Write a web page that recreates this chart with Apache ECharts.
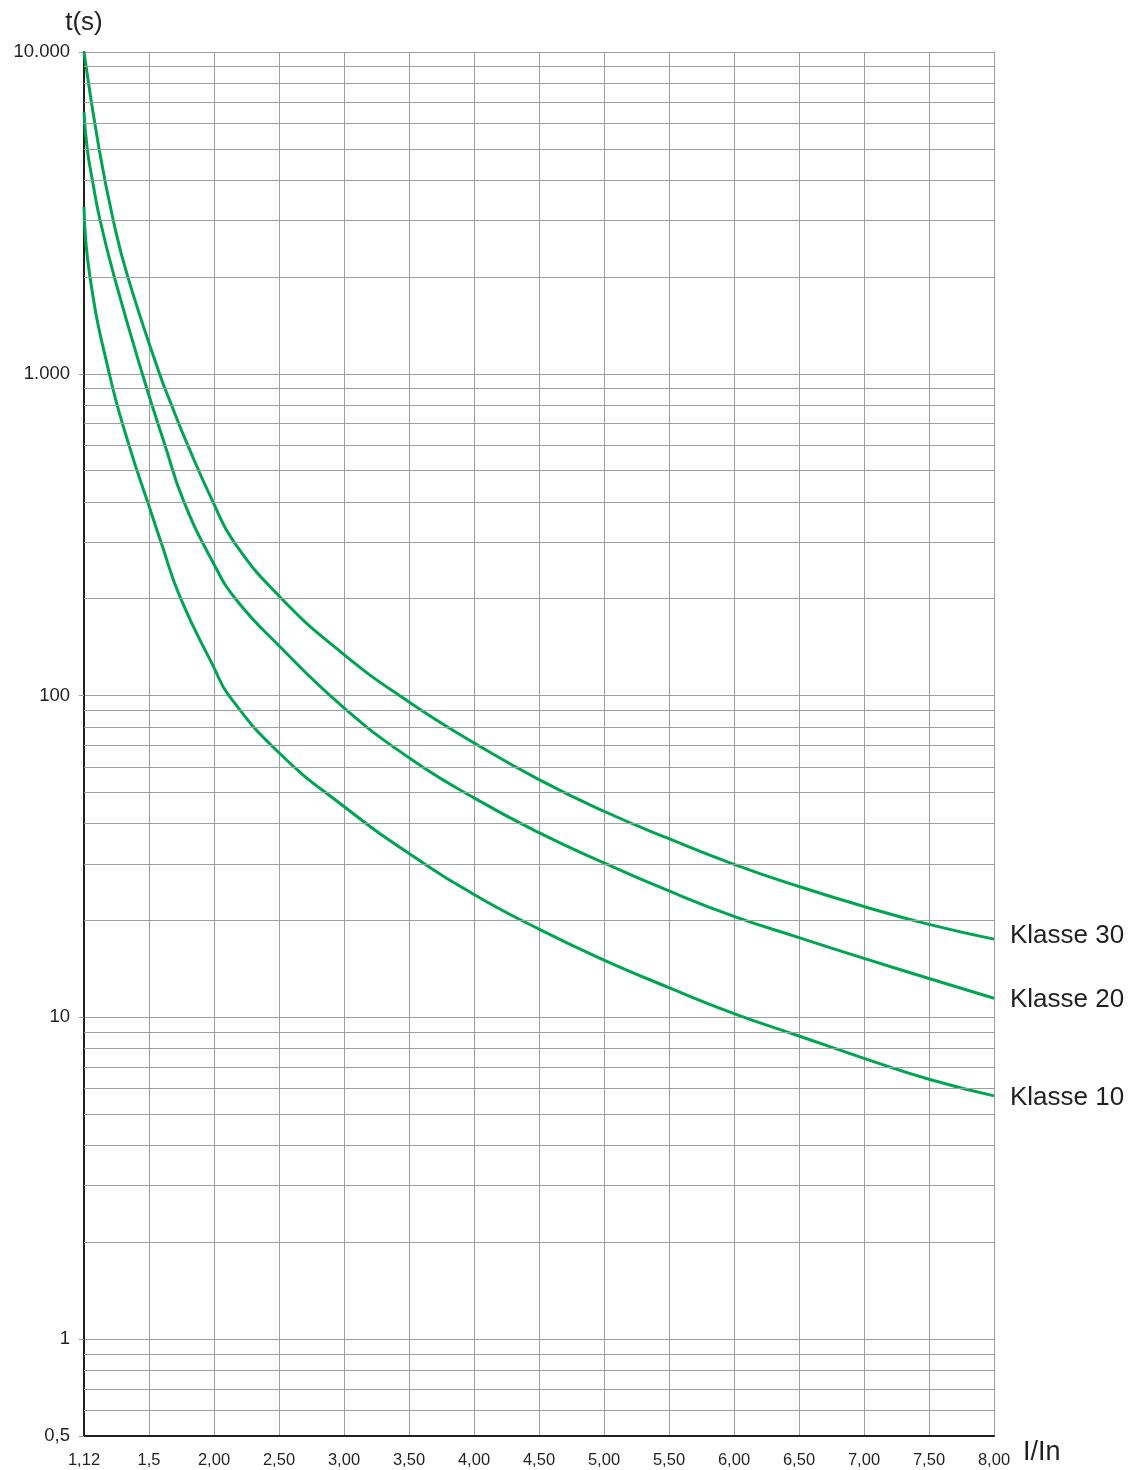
<!DOCTYPE html>
<html>
<head>
<meta charset="utf-8">
<script src="https://cdn.jsdelivr.net/npm/echarts@6/dist/echarts.min.js"></script>
<style>
html,body{margin:0;padding:0;background:#fff;}
#chart{width:1133px;height:1470px;}
</style>
</head>
<body>
<div id="chart"></div>
<script>
// ---- data ----
var xTickValues = [1.12, 1.5, 2.0, 2.5, 3.0, 3.5, 4.0, 4.5, 5.0, 5.5, 6.0, 6.5, 7.0, 7.5, 8.0];
var xTickLabels = ['1,12', '1,5', '2,00', '2,50', '3,00', '3,50', '4,00', '4,50', '5,00', '5,50', '6,00', '6,50', '7,00', '7,50', '8,00'];
var yTickValues = [0.5, 1, 10, 100, 1000, 10000];
var yTickLabels = ['0,5', '1', '10', '100', '1.000', '10.000'];

var klasse30 = [[1.12, 10000], [1.208, 5000], [1.291, 3000], [1.376, 2000], [1.581, 1000], [1.673, 800], [1.798, 600], [1.992, 400], [2.154, 300], [2.521, 200], [3.0, 134.1], [3.5, 95.5], [4.0, 71.3], [4.5, 54.8], [5.0, 43.7], [5.5, 35.9], [6.0, 29.9], [6.5, 25.5], [7.0, 22.1], [7.5, 19.45], [8.0, 17.5]];
var klasse20 = [[1.12, 6500], [1.139, 5000], [1.169, 4000], [1.214, 3000], [1.297, 2000], [1.461, 1000], [1.623, 600], [1.769, 400], [2.0, 256], [2.165, 200], [2.5, 142.8], [3.0, 91.6], [3.5, 64.1], [4.0, 48.1], [4.5, 37.5], [5.0, 30.2], [5.5, 24.7], [6.0, 20.6], [6.5, 17.7], [7.0, 15.25], [7.5, 13.2], [8.0, 11.46]];
var klasse10 = [[1.12, 3300], [1.155, 2000], [1.268, 1000], [1.383, 600], [1.5, 388], [1.592, 300], [1.744, 200], [2.0, 122.2], [2.115, 100], [2.5, 66.4], [3.0, 45.2], [3.5, 32.3], [4.0, 24.1], [4.5, 18.8], [5.0, 15.07], [5.5, 12.37], [6.0, 10.27], [6.5, 8.75], [7.0, 7.46], [7.5, 6.42], [8.0, 5.70]];
var seriesNames = ['Klasse 30', 'Klasse 20', 'Klasse 10'];

// ---- helpers ----
// the x axis is evenly spaced per tick (1,12 -> 1,5 has the same width as 0,5 steps)
function posOf(v) {
  for (var i = 0; i < xTickValues.length - 1; i++) {
    var a = xTickValues[i], b = xTickValues[i + 1];
    if (v <= b || i === xTickValues.length - 2) return i + (v - a) / (b - a);
  }
  return xTickValues.length - 1;
}
function toAxis(arr) { return arr.map(function (p) { return [posOf(p[0]), p[1]]; }); }
function yLabel(v) {
  var best = 0, d = Infinity;
  for (var i = 0; i < yTickValues.length; i++) {
    var dd = Math.abs(Math.log(v) - Math.log(yTickValues[i]));
    if (dd < d) { d = dd; best = i; }
  }
  return d < 0.01 ? yTickLabels[best] : '';
}
// log-paper minor grid lines (2..9 in each decade, 0.6..0.9 below 1)
var minorLines = [];
[0.1, 1, 10, 100, 1000].forEach(function (dec) {
  for (var k = 2; k <= 9; k++) {
    var v = k * dec;
    if (v > 0.5 && v < 10000) minorLines.push(+v.toPrecision(3));
  }
});

var FONT = 'Liberation Sans, Arial, Helvetica, sans-serif';
var TXT = '#231f20';
var GRID = '#9e9e9e';
var GREEN = '#00a551';
var labelOffsets = [[0, -3], [0, 2], [0, 2]];

var chart = echarts.init(document.getElementById('chart'), null, {renderer: 'canvas'});
var curves = [klasse30, klasse20, klasse10].map(function (d, i) {
  return {
    name: seriesNames[i],
    type: 'line',
    data: toAxis(d),
    smooth: 0.5,
    showSymbol: false,
    symbol: 'none',
    z: 4,
    lineStyle: {color: GREEN, width: 3},
    endLabel: {show: true, formatter: seriesNames[i], color: TXT, fontSize: 26, fontFamily: FONT, distance: 16, offset: labelOffsets[i]}
  };
});

chart.setOption({
  animation: false,
  backgroundColor: '#fff',
  grid: {left: 84, top: 52, width: 910, height: 1384, containLabel: false},
  xAxis: {
    type: 'value', min: 0, max: xTickValues.length - 1, interval: 1,
    name: 'I/In', nameLocation: 'end', nameGap: 29,
    nameTextStyle: {fontSize: 27, fontFamily: FONT, color: TXT, verticalAlign: 'top', padding: [3, 0, 0, 0]},
    axisLine: {show: true, lineStyle: {color: TXT, width: 2}},
    axisTick: {show: false},
    axisLabel: {formatter: function (v) { return xTickLabels[Math.round(v)]; }, fontSize: 16.5, fontFamily: FONT, color: TXT, margin: 16},
    splitLine: {show: true, lineStyle: {color: GRID, width: 1}}
  },
  yAxis: {
    type: 'log', logBase: 10, min: 0.5, max: 10000,
    name: 't(s)', nameLocation: 'end', nameGap: 16,
    nameTextStyle: {fontSize: 26, fontFamily: FONT, color: TXT, align: 'center'},
    axisLine: {show: true, lineStyle: {color: TXT, width: 2}},
    axisTick: {show: true, length: 5, lineStyle: {color: GRID, width: 1}},
    axisLabel: {formatter: yLabel, fontSize: 18.5, fontFamily: FONT, color: TXT, margin: 14},
    splitLine: {show: true, lineStyle: {color: GRID, width: 1}},
    minorTick: {show: false},
    minorSplitLine: {show: false}
  },
  series: [{
    name: 'grid',
    type: 'line',
    data: [],
    silent: true,
    z: 1,
    markLine: {
      silent: true,
      animation: false,
      symbol: ['none', 'none'],
      label: {show: false},
      lineStyle: {color: GRID, width: 1, type: 'solid'},
      emphasis: {disabled: true},
      data: minorLines.map(function (v) { return {yAxis: v}; })
    }
  }].concat(curves)
});
</script>
</body>
</html>
